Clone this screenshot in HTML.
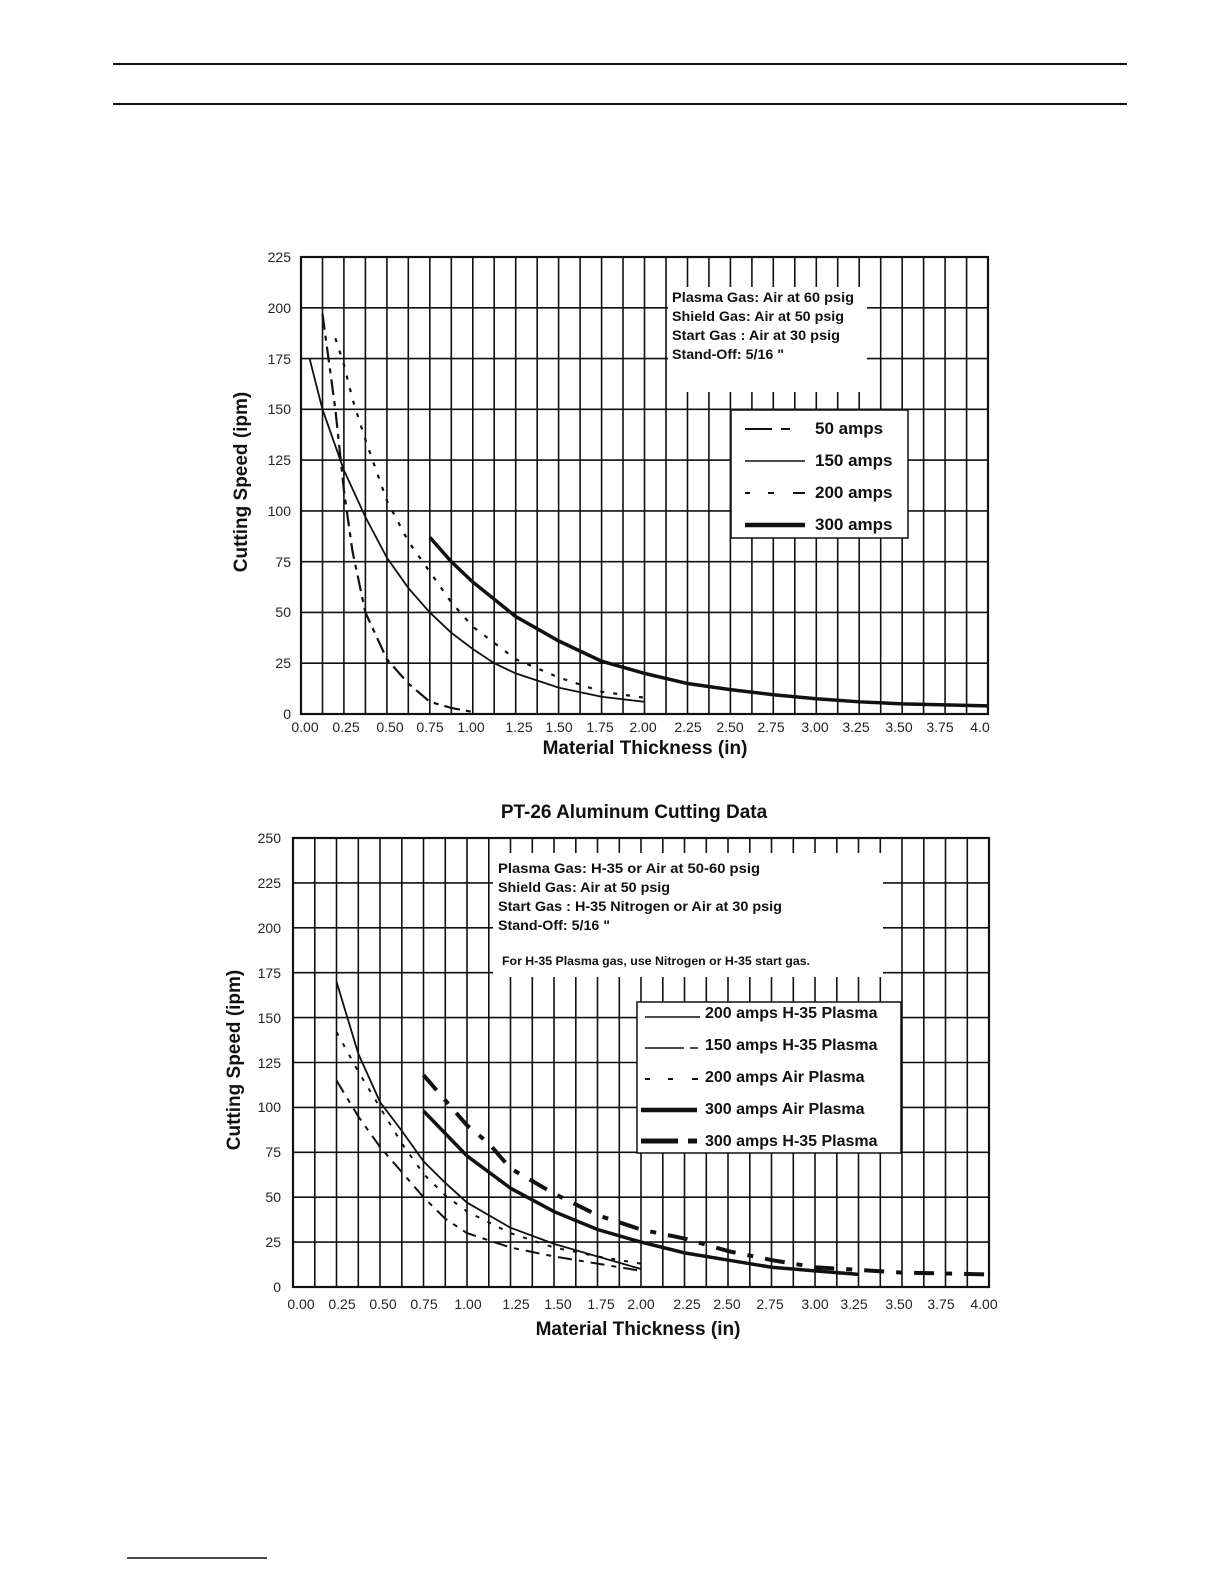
<!DOCTYPE html>
<html><head><meta charset="utf-8"><style>
html,body{margin:0;padding:0;background:#fff;}
svg{display:block;font-family:"Liberation Sans",Arial,sans-serif;}
</style></head><body>
<svg width="1224" height="1584" viewBox="0 0 1224 1584" xmlns="http://www.w3.org/2000/svg">
<rect width="1224" height="1584" fill="#fff"/>
<line x1="113" y1="64" x2="1127" y2="64" stroke="#111" stroke-width="2"/>
<line x1="113" y1="104" x2="1127" y2="104" stroke="#111" stroke-width="2"/>
<line x1="127" y1="1558" x2="267" y2="1558" stroke="#111" stroke-width="1.5"/>

<!-- TOP CHART -->
<g stroke="#111" stroke-width="1.6" fill="none">
<path d="M301,257V714M322.5,257V714M343.9,257V714M365.4,257V714M386.9,257V714M408.3,257V714M429.8,257V714M451.3,257V714M472.8,257V714M494.2,257V714M515.7,257V714M537.2,257V714M558.6,257V714M580.1,257V714M601.6,257V714M623,257V714M644.5,257V714M666,257V714M687.5,257V714M708.9,257V714M730.4,257V714M751.9,257V714M773.3,257V714M794.8,257V714M816.3,257V714M837.7,257V714M859.2,257V714M880.7,257V714M902.2,257V714M923.6,257V714M945.1,257V714M966.6,257V714M988,257V714"/>
<path d="M301,307.8H988M301,358.6H988M301,409.3H988M301,460.1H988M301,510.9H988M301,561.7H988M301,612.4H988M301,663.2H988"/>
</g>
<rect x="668" y="287" width="199" height="105" fill="#fff"/>
<rect x="301" y="257" width="687" height="457" fill="none" stroke="#111" stroke-width="2.2"/>
<g font-weight="bold" font-size="14" fill="#111">
<text x="672" y="302" textLength="182" lengthAdjust="spacingAndGlyphs">Plasma Gas: Air at 60 psig</text>
<text x="672" y="321" textLength="172" lengthAdjust="spacingAndGlyphs">Shield Gas: Air at 50 psig</text>
<text x="672" y="340" textLength="168" lengthAdjust="spacingAndGlyphs">Start Gas  : Air at 30 psig</text>
<text x="672" y="359" textLength="112" lengthAdjust="spacingAndGlyphs">Stand-Off: 5/16 "</text>
</g>
<g transform="translate(301,714) scale(171.75,-2.031)" fill="none" stroke="#111">
<polyline vector-effect="non-scaling-stroke" stroke-width="1.8" points="0.05,175 0.125,150 0.25,120 0.375,97 0.5,77 0.625,62 0.75,50 0.875,40 1,32 1.125,25 1.25,20 1.5,13 1.75,8.5 2,6"/>
<polyline vector-effect="non-scaling-stroke" stroke-width="3.5" points="0.75,87 0.875,75 1,65 1.25,48 1.5,36 1.75,26 2,20 2.25,15 2.5,12 2.75,9.5 3,7.5 3.25,6 3.5,5 3.75,4.5 4,4"/>
<polyline vector-effect="non-scaling-stroke" stroke-width="2.2" stroke-dasharray="4,9" points="0.2,185 0.25,172 0.3,155 0.375,135 0.5,105 0.625,85 0.75,70 0.875,55 1,43 1.25,27 1.5,18 1.75,11 2,8"/>
<polyline vector-effect="non-scaling-stroke" stroke-width="2.2" stroke-dasharray="16,6,5,6" points="0.125,197 0.2,150 0.25,110 0.3,80 0.375,50 0.5,27 0.625,15 0.75,6 0.875,3 1,1"/>
</g>
<rect x="731" y="410" width="177" height="128" fill="#fff" stroke="#111" stroke-width="1.5"/>
<g stroke="#111">
<path d="M745,429H772M781,429H790" stroke-width="2"/>
<path d="M745,461H805" stroke-width="1.6"/>
<path d="M745,493H750M768,493H774M793,493H805" stroke-width="2"/>
<path d="M745,525H805" stroke-width="4.5"/>
</g>
<g font-weight="bold" font-size="17" fill="#111">
<text x="815" y="434">50 amps</text>
<text x="815" y="466">150 amps</text>
<text x="815" y="498">200 amps</text>
<text x="815" y="530">300 amps</text>
</g>
<g font-size="14" fill="#222" text-anchor="end">
<text x="291" y="262">225</text><text x="291" y="313">200</text><text x="291" y="364">175</text><text x="291" y="414">150</text><text x="291" y="465">125</text><text x="291" y="516">100</text><text x="291" y="567">75</text><text x="291" y="617">50</text><text x="291" y="668">25</text><text x="291" y="719">0</text>
</g>
<g font-size="14" fill="#222" text-anchor="middle">
<text x="305" y="732">0.00</text><text x="346" y="732">0.25</text><text x="390" y="732">0.50</text><text x="430" y="732">0.75</text><text x="471" y="732">1.00</text><text x="519" y="732">1.25</text><text x="559" y="732">1.50</text><text x="600" y="732">1.75</text><text x="643" y="732">2.00</text><text x="688" y="732">2.25</text><text x="730" y="732">2.50</text><text x="771" y="732">2.75</text><text x="815" y="732">3.00</text><text x="856" y="732">3.25</text><text x="899" y="732">3.50</text><text x="940" y="732">3.75</text><text x="980" y="732">4.0</text>
</g>
<text x="645" y="754" text-anchor="middle" font-weight="bold" font-size="19" fill="#111">Material Thickness (in)</text>
<text transform="translate(247,482) rotate(-90)" text-anchor="middle" font-weight="bold" font-size="19" fill="#111">Cutting Speed (ipm)</text>

<!-- BOTTOM CHART -->
<text x="634" y="818" text-anchor="middle" font-weight="bold" font-size="19" fill="#111">PT-26 Aluminum Cutting Data</text>
<g stroke="#111" stroke-width="1.6" fill="none">
<path d="M293,838V1287M314.8,838V1287M336.5,838V1287M358.3,838V1287M380,838V1287M401.8,838V1287M423.5,838V1287M445.3,838V1287M467,838V1287M488.8,838V1287M510.5,838V1287M532.3,838V1287M554,838V1287M575.8,838V1287M597.5,838V1287M619.3,838V1287M641,838V1287M662.8,838V1287M684.5,838V1287M706.3,838V1287M728,838V1287M749.8,838V1287M771.5,838V1287M793.3,838V1287M815,838V1287M836.8,838V1287M858.5,838V1287M880.3,838V1287M902,838V1287M923.8,838V1287M945.5,838V1287M967.3,838V1287M989,838V1287"/>
<path d="M293,882.9H989M293,927.8H989M293,972.7H989M293,1017.6H989M293,1062.5H989M293,1107.4H989M293,1152.3H989M293,1197.2H989M293,1242.1H989"/>
</g>
<rect x="493" y="853" width="390" height="124" fill="#fff"/>
<rect x="293" y="838" width="696" height="449" fill="none" stroke="#111" stroke-width="2.2"/>
<g font-weight="bold" font-size="14" fill="#111">
<text x="498" y="873" textLength="262" lengthAdjust="spacingAndGlyphs">Plasma Gas: H-35  or Air at 50-60 psig</text>
<text x="498" y="892" textLength="172" lengthAdjust="spacingAndGlyphs">Shield Gas: Air at 50 psig</text>
<text x="498" y="911" textLength="284" lengthAdjust="spacingAndGlyphs">Start Gas  : H-35 Nitrogen or Air at 30 psig</text>
<text x="498" y="930" textLength="112" lengthAdjust="spacingAndGlyphs">Stand-Off: 5/16 "</text>
<text x="502" y="965" font-size="12" textLength="308" lengthAdjust="spacingAndGlyphs">For H-35 Plasma gas, use Nitrogen or H-35 start gas.</text>
</g>
<g transform="translate(293,1287) scale(174,-1.796)" fill="none" stroke="#111">
<polyline vector-effect="non-scaling-stroke" stroke-width="1.8" points="0.25,170 0.375,130 0.5,103 0.625,87 0.75,70 0.875,58 1,47 1.25,33 1.5,24 1.75,17 2,10"/>
<polyline vector-effect="non-scaling-stroke" stroke-width="2" stroke-dasharray="4,9" points="0.25,142 0.375,120 0.5,100 0.625,80 0.75,63 0.875,51 1,42 1.25,30 1.5,22 1.75,17 2,13"/>
<polyline vector-effect="non-scaling-stroke" stroke-width="2" stroke-dasharray="14,7,5,7" points="0.25,115 0.375,95 0.5,78 0.75,50 0.875,38 1,30 1.25,22 1.5,17 1.75,13 2,9"/>
<polyline vector-effect="non-scaling-stroke" stroke-width="3.5" points="0.75,98 1,73 1.25,55 1.5,42 1.75,32 2,25 2.25,19 2.5,15 2.75,11 3,9 3.25,7"/>
<polyline vector-effect="non-scaling-stroke" stroke-width="4" stroke-dasharray="20,12,6,12" points="0.75,118 1,90 1.125,80 1.25,66 1.5,52 1.75,40 2,32 2.25,27 2.5,20 2.75,15 3,11 3.5,8 4,7"/>
</g>
<rect x="637" y="1002" width="264" height="151" fill="#fff" stroke="#111" stroke-width="1.5"/>
<g stroke="#111">
<path d="M645,1017H700" stroke-width="1.6"/>
<path d="M645,1048H684M690,1048H698" stroke-width="1.6"/>
<path d="M645,1079H650M668,1079H673M692,1079H698" stroke-width="2"/>
<path d="M641,1110H697" stroke-width="4.5"/>
<path d="M641,1141H678M688,1141H697" stroke-width="5"/>
</g>
<g font-weight="bold" font-size="16" fill="#111">
<text x="705" y="1018">200 amps H-35 Plasma</text>
<text x="705" y="1050">150 amps H-35 Plasma</text>
<text x="705" y="1082">200 amps Air Plasma</text>
<text x="705" y="1114">300 amps Air Plasma</text>
<text x="705" y="1146">300 amps H-35 Plasma</text>
</g>
<g font-size="14" fill="#222" text-anchor="end">
<text x="281" y="843">250</text><text x="281" y="888">225</text><text x="281" y="933">200</text><text x="281" y="978">175</text><text x="281" y="1023">150</text><text x="281" y="1068">125</text><text x="281" y="1112">100</text><text x="281" y="1157">75</text><text x="281" y="1202">50</text><text x="281" y="1247">25</text><text x="281" y="1292">0</text>
</g>
<g font-size="14" fill="#222" text-anchor="middle">
<text x="301" y="1309">0.00</text><text x="342" y="1309">0.25</text><text x="383" y="1309">0.50</text><text x="424" y="1309">0.75</text><text x="468" y="1309">1.00</text><text x="516" y="1309">1.25</text><text x="558" y="1309">1.50</text><text x="601" y="1309">1.75</text><text x="641" y="1309">2.00</text><text x="687" y="1309">2.25</text><text x="727" y="1309">2.50</text><text x="770" y="1309">2.75</text><text x="815" y="1309">3.00</text><text x="854" y="1309">3.25</text><text x="899" y="1309">3.50</text><text x="941" y="1309">3.75</text><text x="984" y="1309">4.00</text>
</g>
<text x="638" y="1335" text-anchor="middle" font-weight="bold" font-size="19" fill="#111">Material Thickness (in)</text>
<text transform="translate(240,1060) rotate(-90)" text-anchor="middle" font-weight="bold" font-size="19" fill="#111">Cutting Speed (ipm)</text>
</svg>
</body></html>
